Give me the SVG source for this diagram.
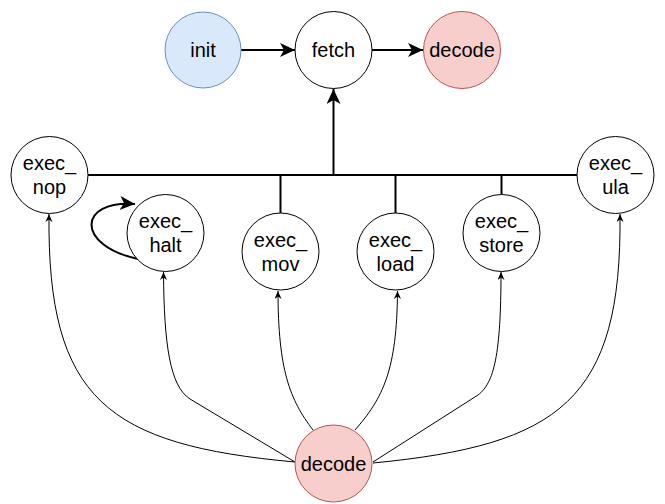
<svg xmlns="http://www.w3.org/2000/svg" width="665" height="504" viewBox="0 0 665 504">
<style>
.n{fill:#ffffff;stroke:#000000;stroke-width:1}
.blue{fill:#dae8fc;stroke:#6c8ebf}
.red{fill:#f8cecc;stroke:#b85450}
text{font-family:"Liberation Sans",Arial,sans-serif;font-size:20px;fill:#000000;text-anchor:middle}
.thick{fill:none;stroke:#000000;stroke-width:2}
.thin{fill:none;stroke:#000000;stroke-width:1}
</style>
<defs>
<marker id="ah" markerUnits="userSpaceOnUse" markerWidth="16" markerHeight="15" refX="15" refY="7" orient="auto">
<path d="M0,0 L15,7 L0,14 L4,7 Z" fill="#000000"/>
</marker>
<marker id="as" markerUnits="userSpaceOnUse" markerWidth="9" markerHeight="8" refX="8" refY="3.5" orient="auto">
<path d="M0,0 L8,3.5 L0,7 L2.5,3.5 Z" fill="#000000"/>
</marker>
</defs>
<g id="connectors">
<path class="thick" d="M241,50 L295,50" marker-end="url(#ah)"/>
<path class="thick" d="M372,50 L423,50" marker-end="url(#ah)"/>
<path class="thick" d="M88,175 L577,175"/>
<path class="thick" d="M333.5,175 L333.5,89" marker-end="url(#ah)"/>
<path class="thick" d="M280.5,175 L280.5,213"/>
<path class="thick" d="M395.5,175 L395.5,213"/>
<path class="thick" d="M501.5,175 L501.5,194"/>
<path class="thick" d="M138,259 C75,245 78,200 135,204" marker-end="url(#ah)"/>
<path class="thin" d="M295,462 C108,445 47,400 49,214" marker-end="url(#as)"/>
<path class="thin" d="M295,462 L190,399 C170,386 164,345 163.5,272" marker-end="url(#as)"/>
<path class="thin" d="M313,430 C290,400 278,370 278,291" marker-end="url(#as)"/>
<path class="thin" d="M355,430 C383,398 397,370 397.5,291" marker-end="url(#as)"/>
<path class="thin" d="M373,462 L478,395 C494,383 501,355 501,272" marker-end="url(#as)"/>
<path class="thin" d="M373,463 C560,445 622,400 620,214" marker-end="url(#as)"/>
</g>
<g id="init"><circle class="n blue" cx="203" cy="50" r="38"/><text x="203" y="57">init</text></g>
<g id="fetch"><circle class="n" cx="333.5" cy="50" r="38.5"/><text x="333.5" y="57">fetch</text></g>
<g id="decode_top"><circle class="n red" cx="462" cy="50" r="38.5"/><text x="462" y="57">decode</text></g>
<g id="exec_nop"><circle class="n" cx="49.5" cy="175" r="38.5"/><text x="49.5" y="170">exec_</text><text x="49.5" y="194">nop</text></g>
<g id="exec_halt"><circle class="n" cx="165.5" cy="233" r="38.5"/><text x="165.5" y="228">exec_</text><text x="165.5" y="252">halt</text></g>
<g id="exec_mov"><circle class="n" cx="280.5" cy="251.5" r="38.5"/><text x="280.5" y="246.5">exec_</text><text x="280.5" y="270.5">mov</text></g>
<g id="exec_load"><circle class="n" cx="395.5" cy="251.5" r="38.5"/><text x="395.5" y="246.5">exec_</text><text x="395.5" y="270.5">load</text></g>
<g id="exec_store"><circle class="n" cx="501.5" cy="233" r="38.5"/><text x="501.5" y="228">exec_</text><text x="501.5" y="252">store</text></g>
<g id="exec_ula"><circle class="n" cx="615.5" cy="175" r="38.5"/><text x="615.5" y="170">exec_</text><text x="615.5" y="194">ula</text></g>
<g id="decode_bottom"><circle class="n red" cx="333.5" cy="463.5" r="38.5"/><text x="333.5" y="470.5">decode</text></g>
</svg>
